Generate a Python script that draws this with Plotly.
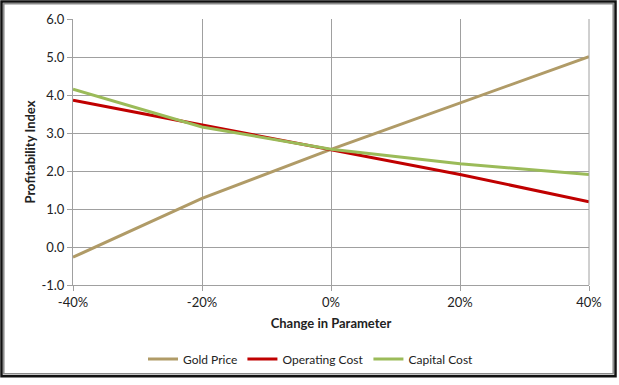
import plotly.graph_objects as go

changes = [-0.4, -0.2, 0.0, 0.2, 0.4]
x_labels = ["-40%", "-20%", "0%", "20%", "40%"]
y_ticks = [-1, 0, 1, 2, 3, 4, 5, 6]
y_labels = ["-1.0", "0.0", "1.0", "2.0", "3.0", "4.0", "5.0", "6.0"]
gold_price = [-0.27, 1.28, 2.57, 3.79, 5.01]
operating_cost = [3.86, 3.21, 2.57, 1.91, 1.19]
capital_cost = [4.15, 3.16, 2.57, 2.19, 1.91]

W, H = 619, 385
ml, mr, mt, mb = 73, 30, 19, 96
pw, ph = W - ml - mr, H - mt - mb

def px(x):
    return (x - ml) / pw

def py(y):
    return (H - mb - y) / ph

fig = go.Figure()
for name, vals, col in [("Gold Price", gold_price, "#B09B67"),
                        ("Operating Cost", operating_cost, "#C00000"),
                        ("Capital Cost", capital_cost, "#9BBB59")]:
    fig.add_trace(go.Scatter(x=changes, y=vals, mode="lines", name=name,
                             line=dict(color=col, width=3)))

font = "Lato, sans-serif"
fig.update_layout(
    width=W, height=H,
    margin=dict(l=ml, r=mr, t=mt, b=mb),
    paper_bgcolor="white", plot_bgcolor="white",
    font=dict(family=font, size=13, color="#222"),
    showlegend=True,
    legend=dict(orientation="h", x=px(311), xanchor="center", y=py(364), yanchor="middle",
                font=dict(size=12), itemwidth=30, tracegroupgap=0),
    xaxis=dict(range=[-0.4, 0.4], tickvals=changes, ticktext=x_labels,
               showgrid=True, gridcolor="#A0A0A0", gridwidth=1,
               showline=True, linecolor="#A0A0A0", ticks="outside", ticklen=5,
               tickcolor="#A0A0A0", zeroline=False,
               title=dict(text="<b>Change in Parameter</b>", standoff=10, font=dict(size=13))),
    yaxis=dict(range=[-1, 6], tickvals=y_ticks, ticktext=y_labels,
               showgrid=True, gridcolor="#A0A0A0", gridwidth=1,
               showline=True, linecolor="#A0A0A0", ticks="outside", ticklen=5,
               tickcolor="#A0A0A0", zeroline=False,
               title=dict(text="<b>Profitability Index</b>", standoff=2, font=dict(size=13))),
    shapes=[
        dict(type="line", xref="paper", yref="paper", x0=1, x1=1, y0=0, y1=1,
             line=dict(color="#A0A0A0", width=1)),
        dict(type="rect", xref="paper", yref="paper",
             x0=px(1.5), x1=px(615.5), y0=py(381.5), y1=py(1.2),
             line=dict(color="#111", width=2.5), layer="above"),
        dict(type="rect", xref="paper", yref="paper",
             x0=px(3.8), x1=px(613.2), y0=py(379.2), y1=py(3.5),
             line=dict(color="#8A8A8A", width=1.5), layer="above"),
    ],
)

fig.write_html("out.html", config={"displayModeBar": False},
               post_script="document.body.style.margin='0';document.body.style.overflow='hidden';")
